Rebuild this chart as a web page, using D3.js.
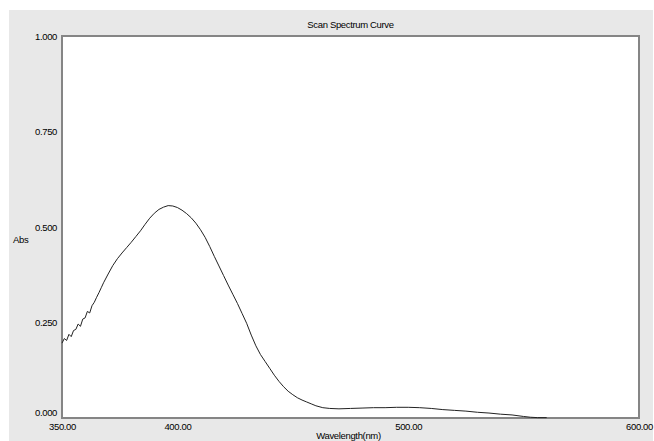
<!DOCTYPE html>
<html>
<head>
<meta charset="utf-8">
<script src="https://cdn.jsdelivr.net/npm/d3@7"></script>
<style>
  html, body { margin: 0; padding: 0; background: #fff; }
  svg { display: block; }
  text { font-family: "Liberation Sans", Arial, sans-serif; font-size: 9.5px; letter-spacing: -0.35px; fill: #000; }
</style>
</head>
<body>
<div id="chart"></div>
<script>
// Values
const wavelengths = [
    350, 351, 352, 353, 354, 355, 356, 357, 358, 359, 360, 361, 362, 363, 364, 365, 366, 367,
    368, 370, 372, 374, 376, 378, 380, 382, 384, 386, 388, 390, 392, 394, 396, 398,
    400, 402, 404, 406, 408, 410, 412, 414, 416, 418, 420, 422, 424, 426, 428, 430,
    432, 434, 436, 438, 440, 442, 444, 446, 448, 450, 452, 454, 456, 458, 460, 463,
    466, 470, 475, 480, 485, 490, 495, 500, 505, 510, 515, 520, 525, 530, 535, 540,
    545, 550, 553, 556, 560
];
const absorbance = [
    0.196, 0.208, 0.203, 0.219, 0.213, 0.229, 0.232, 0.246, 0.240, 0.259, 0.262, 0.279, 0.275, 0.294, 0.303, 0.316, 0.328, 0.341,
    0.354, 0.377, 0.399, 0.417, 0.432, 0.446, 0.460, 0.475, 0.490, 0.507, 0.523, 0.536, 0.546, 0.552, 0.556, 0.555,
    0.551, 0.544, 0.535, 0.524, 0.510, 0.493, 0.473, 0.449, 0.423, 0.398, 0.373, 0.348, 0.324, 0.300, 0.274, 0.248,
    0.217, 0.189, 0.166, 0.148, 0.130, 0.112, 0.096, 0.082, 0.070, 0.061, 0.053, 0.047, 0.042, 0.037, 0.032, 0.027,
    0.025, 0.024, 0.025, 0.026, 0.027, 0.027, 0.028, 0.028, 0.027, 0.025, 0.022, 0.020, 0.018, 0.015, 0.013, 0.010,
    0.008, 0.004, 0.002, 0.001, 0.001
];
const xTicks = [350, 400, 500, 600];
const yTicks = [0, 0.25, 0.5, 0.75, 1.0];

const width = 654;
const height = 441;
const margin = { top: 36, right: 15, bottom: 23, left: 62 };

const svg = d3.select('#chart')
    .append('svg')
    .attr('width', width)
    .attr('height', height);

// grey panel behind the chart
svg.append('rect')
    .attr('x', 9)
    .attr('y', 10)
    .attr('width', width - 10)
    .attr('height', height - 10)
    .attr('fill', '#e8e8e8');

const x = d3.scaleLinear()
    .domain([350, 600])
    .range([margin.left, width - margin.right]);

const y = d3.scaleLinear()
    .domain([0, 1])
    .range([height - margin.bottom, margin.top]);

// plot area
svg.append('rect')
    .attr('x', x(350))
    .attr('y', y(1))
    .attr('width', x(600) - x(350))
    .attr('height', y(0) - y(1))
    .attr('fill', '#fff')
    .attr('stroke', '#858585')
    .attr('stroke-width', 2);

// title
svg.append('text')
    .attr('x', (x(350) + x(600)) / 2)
    .attr('y', 25)
    .attr('dy', '0.35em')
    .attr('text-anchor', 'middle')
    .text('Scan Spectrum Curve');

// y axis labels
const yAxis = d3.axisLeft(y)
    .tickValues(yTicks)
    .tickSize(0)
    .tickPadding(5)
    .tickFormat(d3.format('.3f'));

const gy = svg.append('g')
    .attr('transform', `translate(${x(350)},0)`)
    .call(yAxis);
gy.select('.domain').remove();
gy.selectAll('text')
    .attr('font-size', null)
    .attr('font-family', null)
    .attr('dy', d => d === 0 ? '-0.25em' : '0.35em');

// x axis labels
const xAxis = d3.axisBottom(x)
    .tickValues(xTicks)
    .tickSize(0)
    .tickPadding(5)
    .tickFormat(d3.format('.2f'));

const gx = svg.append('g')
    .attr('transform', `translate(0,${y(0)})`)
    .call(xAxis);
gx.select('.domain').remove();
gx.selectAll('text')
    .attr('font-size', null)
    .attr('font-family', null);

// axis titles
svg.append('text')
    .attr('x', 13)
    .attr('y', 240)
    .attr('dy', '0.35em')
    .text('Abs');

svg.append('text')
    .attr('x', (x(350) + x(600)) / 2 - 2)
    .attr('y', 436)
    .attr('dy', '0.35em')
    .attr('text-anchor', 'middle')
    .text('Wavelength(nm)');

// spectrum curve
const points = wavelengths.map((w, i) => [w, absorbance[i]]);

const line = d3.line()
    .x(d => x(d[0]))
    .y(d => y(d[1]));

svg.append('path')
    .datum(points)
    .attr('fill', 'none')
    .attr('stroke', '#222')
    .attr('stroke-width', 1)
    .attr('d', line);
</script>
</body>
</html>
